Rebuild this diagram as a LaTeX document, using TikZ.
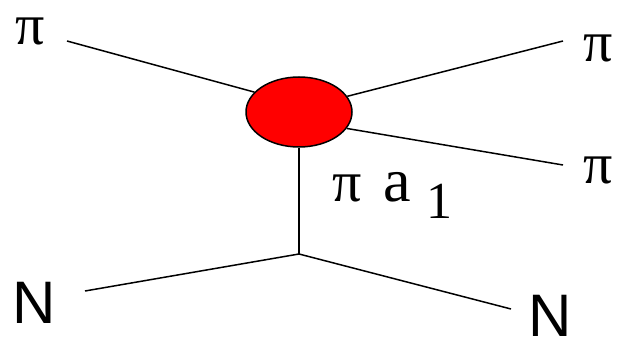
\documentclass[tikz,border=0pt]{standalone}
\usepackage{fontspec}
\setmainfont{Liberation Serif}
\newfontfamily\arialfont{Liberation Sans}
\usetikzlibrary{shapes.geometric}
\tikzset{
  prop/.style={draw=black,line width=1.5pt},
  blob/.style={ellipse,draw=black,line width=1.5pt,fill=red,inner sep=0pt,
    minimum width=106pt,minimum height=70pt},
  pilab/.style={inner sep=0pt,font=\fontsize{58}{60}\selectfont},
  nlab/.style={inner sep=0pt,font=\arialfont\fontsize{60}{64}\selectfont},
}

\begin{document}
\begin{tikzpicture}[x=1pt,y=-1pt]
\useasboundingbox (0,0) rectangle (621,344);
% labels
\node[pilab] (pin) at (30,31) {π};
\node[pilab] (piout1) at (598,48) {π};
\node[pilab] (piout2) at (598,170) {π};
\node[nlab] (nin) at (34,303) {N};
\node[nlab] (nout) at (550,316) {N};
\node[pilab,anchor=base west] (exch) at (332,202)
  {π\hspace{22pt}{\fontsize{62}{64}\selectfont a}\hspace{15pt}\raisebox{-17pt}{\fontsize{52}{54}\selectfont 1}};
% vertices
\node[blob] (blob) at (299,112) {};
\coordinate (v) at (299,254);
\coordinate (pinend) at (67,41);
\coordinate (piout1end) at (563,41);
\coordinate (piout2end) at (563,165);
\coordinate (ninend) at (85,291);
\coordinate (noutend) at (511,309);
% lines
\draw[prop] (pinend) -- (blob.156);
\draw[prop] (blob.18) -- (piout1end);
\draw[prop] (blob.-19) -- (piout2end);
\draw[prop] (blob.south) -- (v);
\draw[prop] (ninend) -- (v) -- (noutend);
\end{tikzpicture}
\end{document}
